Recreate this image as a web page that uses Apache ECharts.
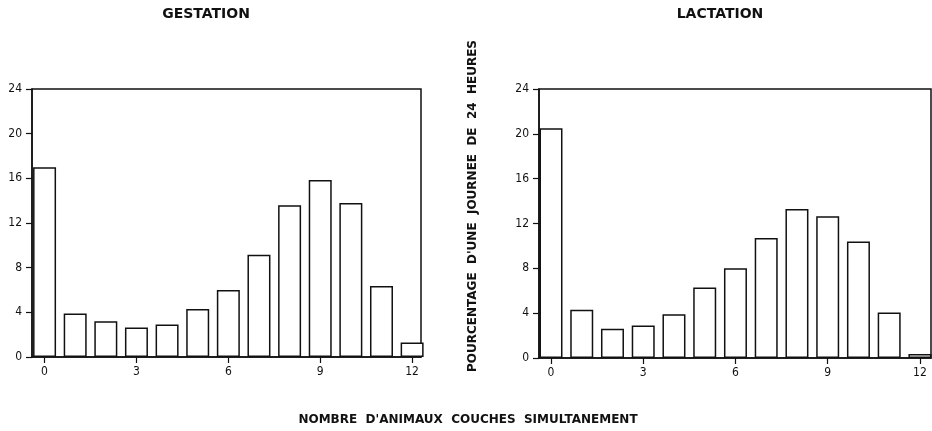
<!DOCTYPE html>
<html>
<head>
<meta charset="utf-8">
<script src="https://cdn.jsdelivr.net/npm/echarts@6/dist/echarts.min.js"></script>
<style>
html,body{margin:0;padding:0;background:#fff;}
#c{width:932px;height:431px;}
</style>
</head>
<body>
<div id="c"></div>
<script>
const categories = [0,1,2,3,4,5,6,7,8,9,10,11,12];
const gestation = [17.0, 3.9, 3.2, 2.65, 2.9, 4.3, 6.0, 9.15, 13.6, 15.85, 13.8, 6.35, 1.3];
const lactation = [20.5, 4.3, 2.6, 2.9, 3.9, 6.3, 8.0, 10.7, 13.3, 12.65, 10.4, 4.05, 0.35];
const xTickValues = [0, 3, 6, 9, 12];
const yMax = 24;
const yStep = 4;
const titleLeft = 'GESTATION';
const titleRight = 'LACTATION';
const yTitle = "POURCENTAGE  D'UNE  JOURNEE  DE  24  HEURES";
const xTitle = "NOMBRE  D'ANIMAUX  COUCHES  SIMULTANEMENT";

const ink = '#111';
const numFont = "'DejaVu Sans Condensed','Liberation Sans Narrow',sans-serif";
const boldFont = "'DejaVu Sans','Liberation Sans',sans-serif";

function xAxis(gridIndex, min, max) {
  return {
    type: 'value', gridIndex, min, max,
    splitLine: {show: false},
    axisLine: {show: true, onZero: false, lineStyle: {color: ink, width: 1.5}},
    axisTick: {show: true, length: 6, customValues: xTickValues, lineStyle: {color: ink, width: 1.2}},
    axisLabel: {customValues: xTickValues, margin: 9, fontSize: 12, color: ink, fontFamily: numFont}
  };
}
function yAxis(gridIndex) {
  return {
    type: 'value', gridIndex, min: 0, max: yMax, interval: yStep,
    splitLine: {show: false},
    axisLine: {show: true, onZero: false, lineStyle: {color: ink, width: 1.5}},
    axisTick: {show: true, length: 6, lineStyle: {color: ink, width: 1.2}},
    axisLabel: {margin: 10, fontSize: 12, color: ink, fontFamily: numFont}
  };
}
function bars(idx, values) {
  return {
    type: 'bar', xAxisIndex: idx, yAxisIndex: idx,
    data: categories.map((c, i) => [c, values[i]]),
    barWidth: 23, clip: true, silent: true,
    itemStyle: {color: '#fff', borderColor: ink, borderWidth: 1.5}
  };
}

const chart = echarts.init(document.getElementById('c'));
chart.setOption({
  animation: false,
  backgroundColor: '#fff',
  grid: [
    {left: 32, right: 511, top: 89, bottom: 74, show: true, borderColor: ink, borderWidth: 1.5, backgroundColor: 'transparent'},
    {left: 539, right: 1, top: 89, bottom: 73, show: true, borderColor: ink, borderWidth: 1.5, backgroundColor: 'transparent'}
  ],
  xAxis: [xAxis(0, -0.41, 12.29), xAxis(1, -0.39, 12.36)],
  yAxis: [yAxis(0), yAxis(1)],
  series: [bars(0, gestation), bars(1, lactation)],
  graphic: [
    {type: 'text', x: 206, y: 14, style: {text: titleLeft, fill: ink, font: 'bold 14px ' + boldFont, align: 'center', verticalAlign: 'middle'}},
    {type: 'text', x: 720, y: 14, style: {text: titleRight, fill: ink, font: 'bold 14px ' + boldFont, align: 'center', verticalAlign: 'middle'}},
    {type: 'text', x: 473, y: 206, rotation: Math.PI / 2, style: {text: yTitle, fill: ink, font: 'bold 12px ' + boldFont, align: 'center', verticalAlign: 'middle'}},
    {type: 'text', x: 468, y: 420, style: {text: xTitle, fill: ink, font: 'bold 12px ' + boldFont, align: 'center', verticalAlign: 'middle'}}
  ]
});
</script>
</body>
</html>
